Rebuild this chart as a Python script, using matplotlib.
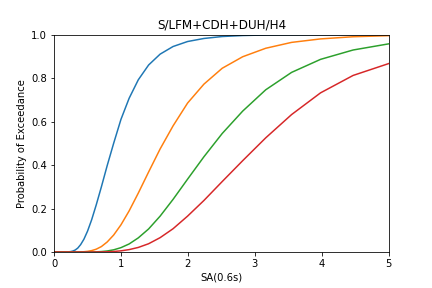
import matplotlib
matplotlib.use('Agg')
import matplotlib.pyplot as plt

# SA(0.6s) sample points (log spaced)
sa = [0.01, 0.2, 0.224, 0.251, 0.282, 0.316, 0.355, 0.398, 0.447, 0.501,
      0.562, 0.631, 0.708, 0.794, 0.891, 1.0, 1.122, 1.259, 1.413, 1.585,
      1.778, 1.995, 2.239, 2.512, 2.818, 3.162, 3.548, 3.981, 4.467, 5.012]

ds1 = [0.0, 0.0003, 0.001, 0.002, 0.0045, 0.009, 0.018, 0.034, 0.059, 0.096,
       0.148, 0.217, 0.30, 0.397, 0.50, 0.61, 0.707, 0.792, 0.86, 0.91,
       0.945, 0.968, 0.982, 0.991, 0.9956, 0.998, 0.999, 0.9997, 0.9999, 1.0]

ds2 = [0.0, 0.0, 0.0, 0.0, 0.0, 0.0, 0.0001, 0.0005, 0.0013, 0.003,
       0.0064, 0.013, 0.025, 0.046, 0.078, 0.125, 0.189, 0.271, 0.368, 0.474,
       0.58, 0.685, 0.772, 0.845, 0.898, 0.937, 0.964, 0.980, 0.990, 0.995]

ds3 = [0.0, 0.0, 0.0, 0.0, 0.0, 0.0, 0.0, 0.0, 0.0, 0.0001,
       0.0003, 0.0008, 0.002, 0.0047, 0.010, 0.020, 0.037, 0.065, 0.106, 0.165,
       0.242, 0.335, 0.438, 0.545, 0.648, 0.746, 0.826, 0.886, 0.929, 0.958]

ds4 = [0.0, 0.0, 0.0, 0.0, 0.0, 0.0, 0.0, 0.0, 0.0, 0.0,
       0.0, 0.0002, 0.0004, 0.001, 0.0024, 0.0053, 0.011, 0.021, 0.038, 0.066,
       0.107, 0.165, 0.237, 0.324, 0.42, 0.525, 0.632, 0.732, 0.812, 0.868]

fig, ax = plt.subplots(figsize=(6, 4), dpi=72)
fig.subplots_adjust(left=0.125, right=0.9, top=0.88, bottom=0.125)

for ds in [ds1, ds2, ds3, ds4]:
    ax.plot(sa, ds)

ax.set_xlim(0, 5)
ax.set_ylim(0, 1)
ax.set_title('S/LFM+CDH+DUH/H4')
ax.set_xlabel('SA(0.6s)')
ax.set_ylabel('Probability of Exceedance')

plt.savefig('out.png', dpi=72)
